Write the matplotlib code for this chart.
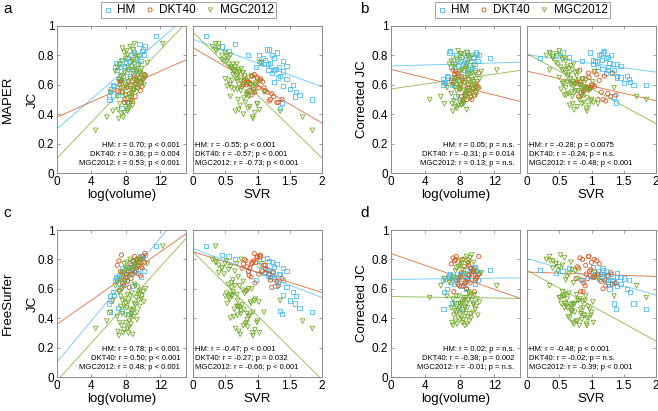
import matplotlib
matplotlib.use("Agg")
import matplotlib.pyplot as plt
import numpy as np

plt.rcParams['font.family'] = ['Liberation Sans', 'DejaVu Sans']

series = ["HM", "DKT40", "MGC2012"]
colors = {"HM": "#4DBEEE", "DKT40": "#D95319", "MGC2012": "#77AC30"}
markers = {"HM": "s", "DKT40": "o", "MGC2012": "v"}

# ---- HM regions: log(volume), SVR, JC for panels a,b,c,d
hm_logvol = [11.5, 10.2, 9.9, 9.6, 10.0, 9.5, 9.3, 9.0, 8.8, 8.6, 8.4, 8.2, 8.0, 7.8, 7.6, 7.4, 7.2, 7.0, 6.8, 6.9,
             9.2, 8.9, 9.7, 8.5, 8.1, 7.7, 7.3, 6.5, 6.2, 6.0, 6.3, 6.6, 7.1, 6.1, 7.5, 8.3, 9.4, 10.1, 8.7, 9.8]
hm_svr = [0.20, 0.45, 0.55, 0.65, 1.15, 1.22, 1.08, 1.30, 1.18, 1.02, 1.40, 1.25, 1.06, 1.45, 1.12, 1.33, 1.16, 1.26, 0.98, 1.20,
          1.17, 1.23, 1.02, 1.35, 1.40, 1.32, 1.45, 1.55, 1.60, 1.58, 1.50, 1.40, 1.65, 1.85, 1.35, 1.38, 1.10, 0.85, 1.28, 1.25]
hm_jc_a = [0.93, 0.86, 0.83, 0.88, 0.84, 0.80, 0.78, 0.82, 0.84, 0.80, 0.76, 0.78, 0.75, 0.73, 0.77, 0.72, 0.74, 0.70, 0.72, 0.75,
           0.70, 0.68, 0.76, 0.66, 0.69, 0.65, 0.64, 0.60, 0.55, 0.52, 0.57, 0.59, 0.53, 0.50, 0.44, 0.48, 0.74, 0.80, 0.71, 0.62]
hm_jc_b = [0.78, 0.80, 0.82, 0.79, 0.81, 0.78, 0.76, 0.80, 0.82, 0.77, 0.74, 0.79, 0.76, 0.73, 0.80, 0.74, 0.77, 0.72, 0.82, 0.83,
           0.71, 0.68, 0.74, 0.70, 0.66, 0.68, 0.65, 0.66, 0.62, 0.64, 0.61, 0.65, 0.60, 0.60, 0.52, 0.48, 0.72, 0.76, 0.75, 0.70]
hm_jc_c = [0.89, 0.83, 0.82, 0.80, 0.81, 0.78, 0.80, 0.77, 0.79, 0.76, 0.74, 0.75, 0.73, 0.72, 0.74, 0.70, 0.69, 0.67, 0.66, 0.68,
           0.73, 0.72, 0.82, 0.70, 0.66, 0.64, 0.61, 0.58, 0.55, 0.50, 0.52, 0.56, 0.47, 0.44, 0.45, 0.43, 0.71, 0.72, 0.62, 0.68]
hm_jc_d = [0.73, 0.71, 0.72, 0.74, 0.70, 0.72, 0.69, 0.70, 0.73, 0.68, 0.71, 0.69, 0.70, 0.68, 0.67, 0.66, 0.68, 0.65, 0.69, 0.70,
           0.74, 0.66, 0.75, 0.64, 0.62, 0.65, 0.63, 0.60, 0.58, 0.66, 0.67, 0.68, 0.50, 0.46, 0.50, 0.46, 0.72, 0.66, 0.60, 0.63]

# ---- DKT40 regions
dkt_logvol = [10.2, 10.0, 9.8, 9.5, 9.3, 9.4, 9.2, 9.0, 8.9, 8.7, 8.5, 8.3, 8.1, 8.0, 7.9, 7.8, 7.6, 7.4, 7.2, 7.0,
              9.6, 9.1, 8.6, 8.2, 8.8, 9.9, 10.2, 7.5, 9.7, 7.3, 8.4, 9.0]
dkt_svr = [0.92, 1.05, 0.84, 0.97, 0.80, 1.10, 0.88, 1.00, 0.94, 1.15, 0.78, 0.86, 1.02, 0.90, 1.20, 1.32, 0.96, 1.08, 0.82, 1.12,
           0.99, 1.25, 1.38, 1.30, 1.18, 0.76, 0.95, 1.04, 0.87, 0.83, 1.22, 0.91]
dkt_jc_a = [0.66, 0.64, 0.62, 0.60, 0.63, 0.58, 0.61, 0.64, 0.57, 0.55, 0.60, 0.62, 0.58, 0.53, 0.50, 0.48, 0.55, 0.62, 0.64, 0.56,
            0.65, 0.52, 0.50, 0.48, 0.49, 0.59, 0.67, 0.63, 0.56, 0.60, 0.54, 0.66]
dkt_jc_b = [0.58, 0.59, 0.55, 0.57, 0.52, 0.50, 0.56, 0.60, 0.58, 0.55, 0.62, 0.64, 0.60, 0.57, 0.66, 0.68, 0.65, 0.67, 0.70, 0.63,
            0.58, 0.54, 0.53, 0.52, 0.50, 0.61, 0.68, 0.69, 0.53, 0.62, 0.49, 0.64]
dkt_jc_c = [0.78, 0.82, 0.75, 0.78, 0.80, 0.76, 0.74, 0.82, 0.79, 0.73, 0.77, 0.72, 0.70, 0.68, 0.66, 0.62, 0.64, 0.72, 0.79, 0.76,
            0.81, 0.71, 0.67, 0.65, 0.70, 0.74, 0.84, 0.83, 0.69, 0.59, 0.61, 0.77]
dkt_jc_d = [0.70, 0.68, 0.66, 0.72, 0.74, 0.70, 0.64, 0.78, 0.67, 0.65, 0.75, 0.80, 0.68, 0.62, 0.66, 0.63, 0.82, 0.79, 0.81, 0.77,
            0.73, 0.69, 0.64, 0.71, 0.60, 0.67, 0.82, 0.80, 0.58, 0.58, 0.62, 0.76]

# ---- MGC2012 regions
mgc_logvol = [8.5, 8.8, 9.0, 8.2, 7.8, 8.0, 7.5, 9.2, 7.3, 9.4, 8.7, 7.0, 8.3, 9.6, 7.6, 6.8, 9.8, 8.9, 8.1, 7.9,
              7.2, 7.4, 7.6, 7.8, 8.0, 7.5, 7.7, 8.2, 8.4, 8.6, 8.8, 9.0, 9.2, 9.4, 9.6, 9.8, 10.0, 10.3, 8.1, 8.3,
              8.5, 8.7, 8.9, 9.1, 9.3, 7.9, 7.3, 7.1, 8.6, 9.5, 7.0, 8.0, 9.7, 8.4, 9.9, 7.6, 8.8, 9.1,
              7.4, 8.2, 8.9, 9.3, 7.8, 8.5, 9.0, 7.2, 8.0, 9.6, 8.7, 7.6, 8.3, 9.4, 10.1, 8.6,
              4.5, 12.3, 5.8, 6.5, 10.5, 6.2]
mgc_svr = [0.30, 0.35, 0.40, 0.45, 0.50, 0.55, 0.48, 0.58, 0.62, 0.52, 0.65, 0.60, 0.70, 0.68, 0.40, 0.72, 0.75, 0.45, 0.36, 0.78,
           0.82, 0.60, 0.95, 0.70, 0.88, 0.78, 0.92, 0.66, 1.00, 0.58, 0.74, 0.90, 0.55, 0.80, 0.68, 0.97, 0.62, 0.86, 0.72, 1.02,
           0.50, 0.84, 0.64, 0.76, 0.93, 0.57, 0.99, 0.71, 0.81, 0.69, 0.87, 0.53, 0.77, 0.85, 0.61, 0.91, 0.73, 0.65,
           0.68, 0.58, 0.63, 0.84, 0.96, 0.79, 0.55, 0.93, 0.83, 0.71, 0.52, 0.74, 1.03, 0.60, 0.89, 0.69,
           1.85, 0.35, 1.70, 1.35, 1.05, 1.10]
mgc_jc_a = [0.86, 0.84, 0.88, 0.80, 0.82, 0.78, 0.76, 0.80, 0.74, 0.79, 0.72, 0.72, 0.70, 0.74, 0.85, 0.69, 0.71, 0.77, 0.83, 0.68,
            0.62, 0.58, 0.55, 0.50, 0.45, 0.40, 0.38, 0.42, 0.47, 0.52, 0.56, 0.60, 0.63, 0.66, 0.64, 0.61, 0.67, 0.65, 0.58, 0.62,
            0.64, 0.54, 0.57, 0.60, 0.58, 0.60, 0.47, 0.43, 0.48, 0.62, 0.52, 0.59, 0.68, 0.44, 0.63, 0.66, 0.46, 0.70,
            0.66, 0.72, 0.69, 0.55, 0.41, 0.51, 0.74, 0.37, 0.53, 0.68, 0.76, 0.63, 0.43, 0.71, 0.60, 0.57,
            0.29, 0.88, 0.38, 0.42, 0.75, 0.55]
mgc_jc_b = [0.80, 0.82, 0.79, 0.81, 0.83, 0.77, 0.74, 0.78, 0.72, 0.80, 0.71, 0.76, 0.70, 0.73, 0.78, 0.74, 0.68, 0.75, 0.81, 0.69,
            0.60, 0.58, 0.56, 0.52, 0.48, 0.45, 0.44, 0.46, 0.50, 0.53, 0.55, 0.58, 0.61, 0.63, 0.60, 0.57, 0.62, 0.64, 0.59, 0.62,
            0.65, 0.52, 0.54, 0.56, 0.51, 0.61, 0.49, 0.47, 0.50, 0.55, 0.54, 0.57, 0.66, 0.47, 0.53, 0.63, 0.43, 0.67,
            0.64, 0.70, 0.66, 0.60, 0.46, 0.56, 0.70, 0.42, 0.58, 0.62, 0.72, 0.60, 0.48, 0.68, 0.57, 0.61,
            0.50, 0.70, 0.52, 0.58, 0.69, 0.47]
mgc_jc_c = [0.80, 0.78, 0.76, 0.74, 0.77, 0.73, 0.70, 0.75, 0.66, 0.79, 0.72, 0.64, 0.68, 0.77, 0.71, 0.62, 0.80, 0.74, 0.78, 0.65,
            0.58, 0.55, 0.52, 0.48, 0.42, 0.35, 0.30, 0.33, 0.38, 0.40, 0.45, 0.50, 0.54, 0.57, 0.56, 0.53, 0.58, 0.60, 0.47, 0.51,
            0.55, 0.43, 0.46, 0.49, 0.44, 0.53, 0.37, 0.31, 0.36, 0.52, 0.41, 0.50, 0.59, 0.34, 0.55, 0.60, 0.29, 0.62,
            0.48, 0.56, 0.41, 0.39, 0.32, 0.46, 0.63, 0.28, 0.37, 0.48, 0.57, 0.43, 0.30, 0.61, 0.51, 0.42,
            0.33, 0.89, 0.38, 0.52, 0.77, 0.44]
mgc_jc_d = [0.80, 0.82, 0.79, 0.77, 0.75, 0.76, 0.72, 0.81, 0.68, 0.83, 0.70, 0.66, 0.73, 0.78, 0.74, 0.64, 0.72, 0.77, 0.79, 0.67,
            0.53, 0.50, 0.48, 0.45, 0.42, 0.38, 0.36, 0.40, 0.44, 0.47, 0.50, 0.52, 0.55, 0.52, 0.49, 0.46, 0.53, 0.51, 0.49, 0.51,
            0.54, 0.43, 0.41, 0.38, 0.40, 0.55, 0.42, 0.37, 0.35, 0.44, 0.47, 0.50, 0.56, 0.39, 0.48, 0.55, 0.36, 0.57,
            0.45, 0.50, 0.47, 0.43, 0.40, 0.52, 0.58, 0.35, 0.46, 0.50, 0.54, 0.44, 0.37, 0.56, 0.42, 0.48,
            0.54, 0.62, 0.62, 0.55, 0.71, 0.67]

logvol = {"HM": hm_logvol, "DKT40": dkt_logvol, "MGC2012": mgc_logvol}
svr = {"HM": hm_svr, "DKT40": dkt_svr, "MGC2012": mgc_svr}
jc = {
    "a": {"HM": hm_jc_a, "DKT40": dkt_jc_a, "MGC2012": mgc_jc_a},
    "b": {"HM": hm_jc_b, "DKT40": dkt_jc_b, "MGC2012": mgc_jc_b},
    "c": {"HM": hm_jc_c, "DKT40": dkt_jc_c, "MGC2012": mgc_jc_c},
    "d": {"HM": hm_jc_d, "DKT40": dkt_jc_d, "MGC2012": mgc_jc_d},
}

# ---- fitted regression lines (intercept, slope)
fit_vol = {
    "a": {"HM": (0.30, 0.0507), "DKT40": (0.38, 0.026), "MGC2012": (0.10, 0.0614)},
    "b": {"HM": (0.728, 0.0017), "DKT40": (0.705, -0.0145), "MGC2012": (0.572, 0.0084)},
    "c": {"HM": (0.102, 0.0703), "DKT40": (0.359, 0.041), "MGC2012": (-0.026, 0.0646)},
    "d": {"HM": (0.664, 0.0007), "DKT40": (0.84, -0.0203), "MGC2012": (0.547, -0.0008)},
}
fit_svr = {
    "a": {"HM": (0.91, -0.162), "DKT40": (0.852, -0.256), "MGC2012": (0.957, -0.4275)},
    "b": {"HM": (0.805, -0.0595), "DKT40": (0.693, -0.1005), "MGC2012": (0.812, -0.238)},
    "c": {"HM": (0.875, -0.167), "DKT40": (0.852, -0.1385), "MGC2012": (0.852, -0.435)},
    "d": {"HM": (0.805, -0.1235), "DKT40": (0.714, -0.015), "MGC2012": (0.725, -0.24)},
}

stats_vol = {
    "a": ["HM: r = 0.70; p < 0.001", "DKT40: r = 0.36; p = 0.004", "MGC2012: r = 0.53; p < 0.001"],
    "b": ["HM: r = 0.05; p = n.s.", "DKT40: r = -0.31; p = 0.014", "MGC2012: r = 0.13; p = n.s."],
    "c": ["HM: r = 0.78; p < 0.001", "DKT40: r = 0.50; p < 0.001", "MGC2012: r = 0.48; p < 0.001"],
    "d": ["HM: r = 0.02; p = n.s.", "DKT40: r = -0.38; p = 0.002", "MGC2012: r = -0.01; p = n.s."],
}
stats_svr = {
    "a": ["HM: r = -0.55; p < 0.001", "DKT40: r = -0.57; p < 0.001", "MGC2012: r = -0.73; p < 0.001"],
    "b": ["HM: r = -0.28; p = 0.0075", "DKT40: r = -0.24; p = n.s.", "MGC2012: r = -0.48; p < 0.001"],
    "c": ["HM: r = -0.47; p < 0.001", "DKT40: r = -0.27; p = 0.032", "MGC2012: r = -0.66; p < 0.001"],
    "d": ["HM: r = -0.48; p < 0.001", "DKT40: r = -0.02; p = n.s.", "MGC2012: r = -0.39; p < 0.001"],
}

vol_ticks = [0, 4, 8, 12]
svr_ticks = [0, 0.5, 1, 1.5, 2]
svr_ticklabels = ["0", "0.5", "1", "1.5", "2"]
jc_ticks = [0, 0.2, 0.4, 0.6, 0.8, 1]
jc_ticklabels = ["0", "0.2", "0.4", "0.6", "0.8", "1"]

W, H = 658, 411
fig = plt.figure(figsize=(W / 100, H / 100), dpi=100)

panel_cfg = {
    # letter: (left px of first axes, top px, outer label, ylabel, ylabel x offset)
    "a": (57, 26, "MAPER", "JC", -0.14),
    "b": (391, 26, None, "Corrected JC", -0.178),
    "c": (57, 230, "FreeSurfer", "JC", -0.14),
    "d": (391, 230, None, "Corrected JC", -0.178),
}
ax_w, ax_h, gap = 129, 147, 7
edge = "#8c8c8c"


def style_axes(ax):
    for s in ax.spines.values():
        s.set_color(edge)
        s.set_linewidth(0.7)
    ax.tick_params(direction="in", length=2.5, width=0.6, color=edge, labelsize=8.5, pad=2,
                   top=True, right=True)
    ax.set_ylim(0, 1)
    ax.set_yticks(jc_ticks)


def draw_points(ax, xs, letter):
    for s in series:
        ax.scatter(xs[s], jc[letter][s], marker=markers[s], s=9 if s != "MGC2012" else 11,
                   facecolors="none", edgecolors=colors[s], linewidths=0.6, zorder=2)


for letter, (lx, ty, outer, ylab, yl_off) in panel_cfg.items():
    bottom = 1 - (ty + ax_h) / H
    ax1 = fig.add_axes([lx / W, bottom, ax_w / W, ax_h / H])
    ax2 = fig.add_axes([(lx + ax_w + gap) / W, bottom, ax_w / W, ax_h / H])
    style_axes(ax1)
    style_axes(ax2)

    # left: log(volume)
    draw_points(ax1, logvol, letter)
    xl = np.array([0, 15])
    for s in series:
        b0, b1 = fit_vol[letter][s]
        ax1.plot(xl, b0 + b1 * xl, color=colors[s], lw=0.6, alpha=0.85, zorder=1)
    ax1.set_xlim(0, 15)
    ax1.set_xticks(vol_ticks)
    ax1.set_yticklabels(jc_ticklabels)
    ax1.set_xlabel("log(volume)", fontsize=9.5, labelpad=1)
    for i, t in enumerate(stats_vol[letter]):
        ax1.text(0.955, 0.19 - i * 0.064, t, transform=ax1.transAxes, ha="right", va="center",
                 fontsize=5.5)

    # right: SVR
    draw_points(ax2, svr, letter)
    xs2 = np.array([0, 2])
    for s in series:
        b0, b1 = fit_svr[letter][s]
        ax2.plot(xs2, b0 + b1 * xs2, color=colors[s], lw=0.6, alpha=0.85, zorder=1)
    ax2.set_xlim(0, 2)
    ax2.set_xticks(svr_ticks)
    ax2.set_xticklabels(svr_ticklabels)
    ax2.set_yticklabels([])
    ax2.set_xlabel("SVR", fontsize=9.5, labelpad=1)
    for i, t in enumerate(stats_svr[letter]):
        ax2.text(0.015, 0.19 - i * 0.064, t, transform=ax2.transAxes, ha="left", va="center",
                 fontsize=5.5)

    # y labels
    ax1.set_ylabel(ylab, fontsize=9.5)
    ax1.yaxis.set_label_coords(yl_off, 0.5)
    if outer:
        fig.text(8 / W, bottom + ax_h / H / 2, outer, rotation=90, ha="center", va="center", fontsize=9.5)

    # panel letter
    fig.text((lx - 54) / W if letter in "ac" else (lx - 31) / W, 1 - (ty - 17) / H, letter,
             fontsize=11, ha="left", va="center")

    # legends above top row
    if letter in "ab":
        handles = [ax1.scatter([], [], marker=markers[s], s=9, facecolors="none",
                               edgecolors=colors[s], linewidths=0.6) for s in series]
        leg = fig.legend(handles, series, loc="center",
                         bbox_to_anchor=((lx + ax_w + gap / 2 - 1) / W, 1 - 10 / H),
                         ncol=3, fontsize=8.5, frameon=True, fancybox=False, handlelength=0.8,
                         handletextpad=0.4, columnspacing=0.8, borderpad=0.2, borderaxespad=0)
        leg.get_frame().set_edgecolor(edge)
        leg.get_frame().set_linewidth(0.7)

fig.savefig("out.png", dpi=100)
